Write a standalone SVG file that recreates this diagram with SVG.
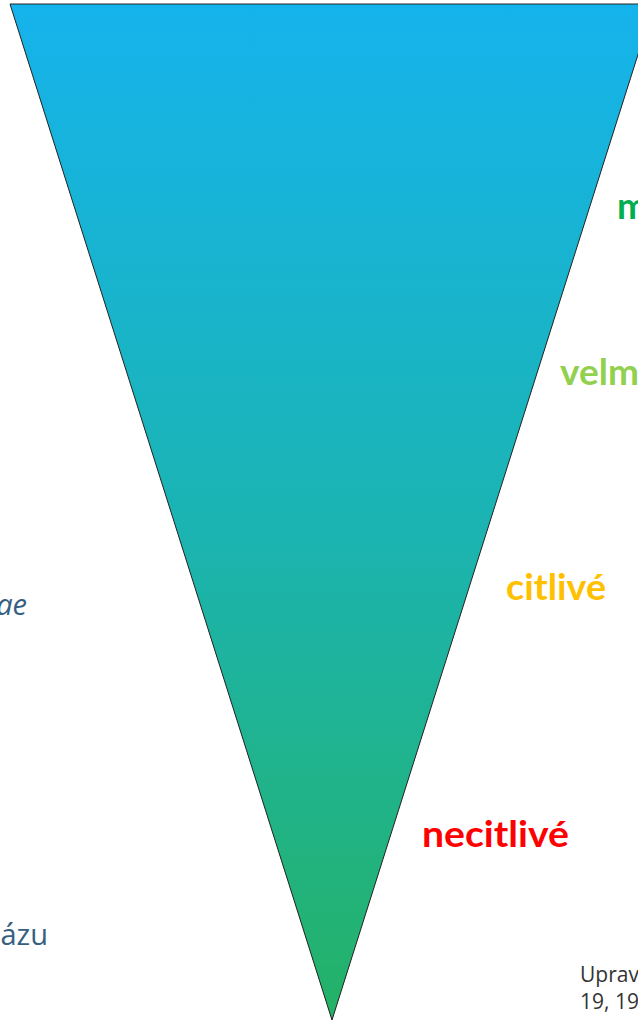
<svg xmlns="http://www.w3.org/2000/svg" width="638" height="1022" viewBox="0 0 638 1022">
  <defs>
    <linearGradient id="funnelFill" x1="0" y1="0" x2="0" y2="1">
      <stop offset="0" stop-color="#15B3EC"/>
      <stop offset="0.5" stop-color="#1BB4B4"/>
      <stop offset="1" stop-color="#24B266"/>
    </linearGradient>
    <style>
      .lbl { font-family: Lato, "Open Sans", "Liberation Sans", sans-serif; font-weight: 700; font-size: 37px; }
      .side { font-family: "Open Sans", "Liberation Sans", sans-serif; font-size: 29px; fill: #35607F; }
      .note { font-family: "Open Sans", "Liberation Sans", sans-serif; font-size: 21px; fill: #333333; }
    </style>
  </defs>

  <rect width="638" height="1022" fill="#ffffff"/>

  <!-- inverted triangle -->
  <g id="funnel">
    <polygon points="10,4 654,4 332,1020" fill="url(#funnelFill)" stroke="#222222" stroke-width="1"/>
  </g>

  <!-- sensitivity labels along the right side -->
  <g id="label-m">
    <text class="lbl" x="617" y="219" fill="#00B050">m</text>
  </g>
  <g id="label-velm">
    <text class="lbl" x="560" y="385" fill="#92D050">velm</text>
  </g>
  <g id="label-citlive">
    <text class="lbl" x="506" y="600" fill="#FFC000" textLength="100" lengthAdjust="spacingAndGlyphs">citlivé</text>
  </g>
  <g id="label-necitlive">
    <text class="lbl" x="422" y="847" fill="#FF0000" textLength="147" lengthAdjust="spacingAndGlyphs">necitlivé</text>
  </g>

  <!-- left-side fragments -->
  <g id="left-ae">
    <text class="side" x="27" y="615" text-anchor="end" font-style="italic">ae</text>
  </g>
  <g id="left-azu">
    <text class="side" x="48" y="945" text-anchor="end">ázu</text>
  </g>

  <!-- source note -->
  <g id="source-note">
    <text class="note" x="580" y="982">Uprav</text>
    <text class="note" x="580" y="1009">19, 19</text>
  </g>
</svg>
